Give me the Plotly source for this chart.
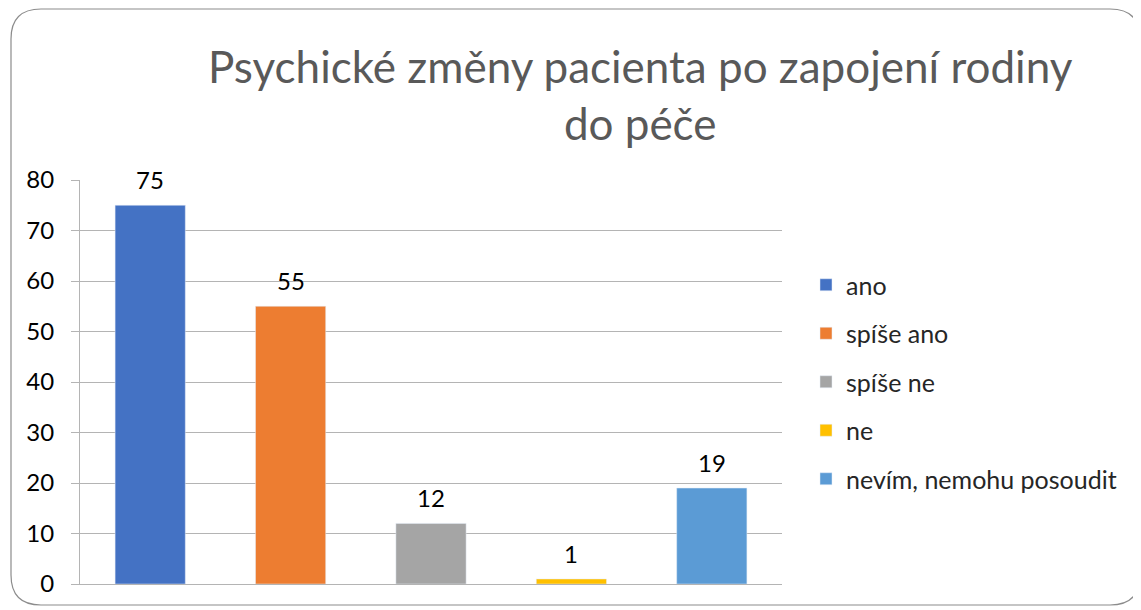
import plotly.graph_objects as go

categories = ["ano", "spíše ano", "spíše ne", "ne", "nevím, nemohu posoudit"]
values = [75, 55, 12, 1, 19]
colors = ["#4472C4", "#ED7D31", "#A5A5A5", "#FFC000", "#5B9BD5"]
y_ticks = [0, 10, 20, 30, 40, 50, 60, 70, 80]

# page has 8px body margin: figure drawn at (8,8)
OFF = 8
W, H = 1141 - OFF, 610 - OFF
ML, MR, MT, MB = 80 - OFF, 359, 180 - OFF, 26
PW, PH = W - ML - MR, H - MT - MB

def px(x):  # page pixel -> paper x
    return (x - OFF - ML) / PW

def py(y):  # page pixel -> paper y
    return (H - MB - (y - OFF)) / PH

FONT = "Lato, 'Open Sans', sans-serif"

fig = go.Figure()
for i, (c, v, col) in enumerate(zip(categories, values, colors)):
    fig.add_trace(go.Bar(
        x=[c], y=[v], name=c, marker_color=col, width=0.5,
        legendgroup=str(i),
    ))

annotations = [
    dict(x=c, y=v, text=str(v), showarrow=False, xref="x", yref="y",
         yanchor="bottom", yshift=9,
         font=dict(size=24, color="#000000", family=FONT))
    for c, v in zip(categories, values)
]
annotations.append(dict(
    text="Psychické změny pacienta po zapojení rodiny<br>do péče",
    xref="paper", yref="paper", x=px(640), y=py(38), xanchor="center",
    yanchor="top", showarrow=False, align="center",
    font=dict(size=44, color="#595959", family=FONT)))

# rounded border
x0, x1, y0, y1, r = 11, 1140, 9, 605, 30
path = (f"M {px(x0 + r)},{py(y0)} L {px(x1 - r)},{py(y0)} "
        f"Q {px(x1)},{py(y0)} {px(x1)},{py(y0 + r)} "
        f"L {px(x1)},{py(y1 - r)} Q {px(x1)},{py(y1)} {px(x1 - r)},{py(y1)} "
        f"L {px(x0 + r)},{py(y1)} Q {px(x0)},{py(y1)} {px(x0)},{py(y1 - r)} "
        f"L {px(x0)},{py(y0 + r)} Q {px(x0)},{py(y0)} {px(x0 + r)},{py(y0)} Z")

fig.update_layout(
    width=W, height=H,
    margin=dict(l=ML, r=MR, t=MT, b=MB),
    paper_bgcolor="white", plot_bgcolor="white",
    barmode="overlay",
    showlegend=True,
    legend=dict(x=px(806), xanchor="left", y=py(262), yanchor="top",
                font=dict(size=25, color="#262626", family=FONT),
                tracegroupgap=13, itemwidth=30, bgcolor="rgba(0,0,0,0)"),
    shapes=[dict(type="path", path=path, xref="paper", yref="paper",
                 line=dict(color="#8c8c8c", width=1.2), layer="below")],
    annotations=annotations,
    font=dict(family=FONT),
)
fig.update_yaxes(range=[0, 80], tickvals=y_ticks, showgrid=True,
                 gridcolor="#b4b4b4", gridwidth=1, showline=True,
                 linecolor="#b4b4b4", ticks="outside", ticklen=8,
                 tickcolor="#b4b4b4", zeroline=False,
                 tickfont=dict(size=24, color="#000000", family=FONT),
                 ticklabelstandoff=12)
fig.update_xaxes(showticklabels=False, showline=True, linecolor="#b4b4b4",
                 showgrid=False, ticks="", categoryorder="array",
                 categoryarray=categories)

fig.write_html("out.html")
